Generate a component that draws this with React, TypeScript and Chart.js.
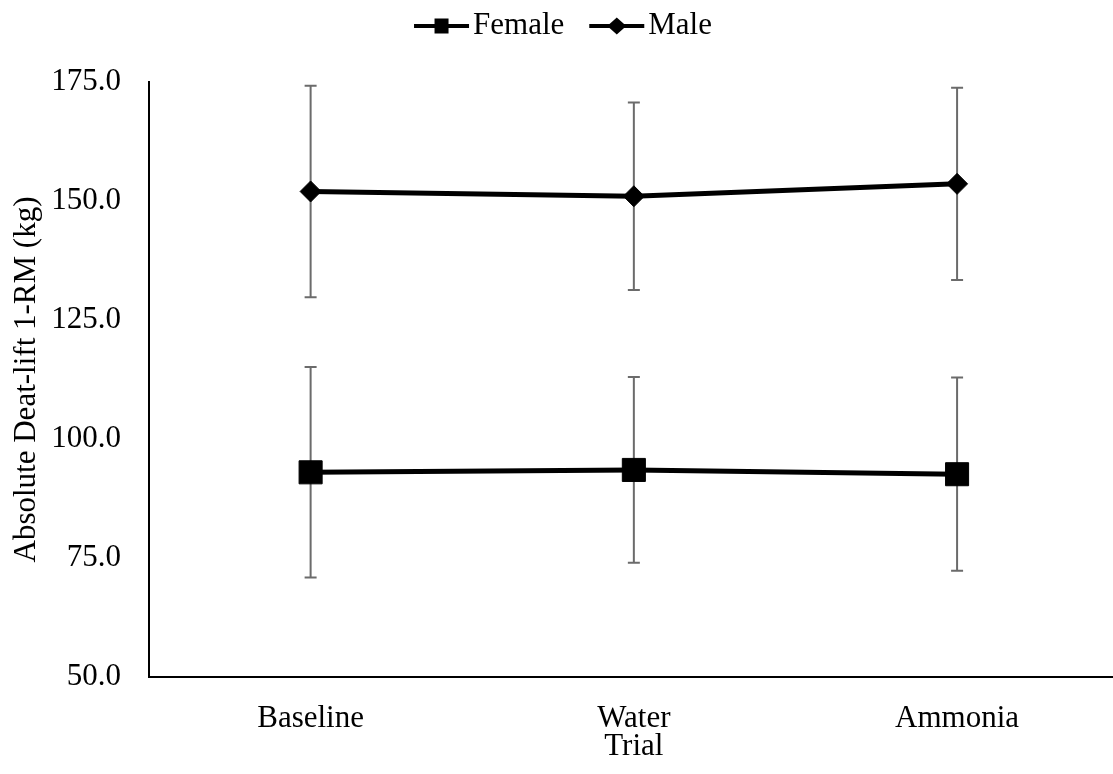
import React, { useEffect, useRef } from 'react';
import { Chart, registerables } from 'chart.js';

Chart.register(...registerables);

const trials = ['Baseline', 'Water', 'Ammonia'];
const femaleMeans = [93.0, 93.5, 92.6];
const femaleSD = [22.1, 19.5, 20.3];
const maleMeans = [152.0, 151.0, 153.6];
const maleSD = [22.2, 19.7, 20.2];
const yMin = 50;
const yMax = 175;
const yStep = 25;
const legendNames = ['Female', 'Male'];

const FONT = "'Liberation Serif', 'Times New Roman', serif";
const errs: Record<number, number[]> = { 0: femaleSD, 1: maleSD };

const errorBars = {
  id: 'errorBars',
  beforeDatasetsDraw(chart: any) {
    const { ctx, scales } = chart;
    const x = scales.x;
    const y = scales.y;
    ctx.save();
    ctx.strokeStyle = '#6b6b6b';
    ctx.lineWidth = 2;
    chart.data.datasets.forEach((ds: any, i: number) => {
      const e = errs[i];
      ds.data.forEach((v: number, j: number) => {
        const px = x.getPixelForValue(j);
        const top = y.getPixelForValue(v + e[j]);
        const bot = y.getPixelForValue(v - e[j]);
        ctx.beginPath();
        ctx.moveTo(px, top);
        ctx.lineTo(px, bot);
        ctx.moveTo(px - 6, top);
        ctx.lineTo(px + 6, top);
        ctx.moveTo(px - 6, bot);
        ctx.lineTo(px + 6, bot);
        ctx.stroke();
      });
    });
    ctx.restore();
  },
};

const customLegend = {
  id: 'customLegend',
  afterDraw(chart: any) {
    const { ctx } = chart;
    ctx.save();
    ctx.font = `31px ${FONT}`;
    ctx.textBaseline = 'middle';
    ctx.fillStyle = '#000';
    const iconW = 55;
    const gapText = 4;
    const gapItem = 25;
    const wF = ctx.measureText(legendNames[0]).width;
    const wM = ctx.measureText(legendNames[1]).width;
    const total = iconW + gapText + wF + gapItem + iconW + gapText + wM;
    const cy = 26;
    let x = 563 - total / 2;
    const drawIcon = (x0: number, kind: string) => {
      ctx.strokeStyle = '#000';
      ctx.lineWidth = 4;
      ctx.beginPath();
      ctx.moveTo(x0, cy);
      ctx.lineTo(x0 + iconW, cy);
      ctx.stroke();
      const cx = x0 + iconW / 2;
      if (kind === 'square') {
        ctx.fillRect(cx - 7, cy - 7.5, 14, 15);
      } else {
        ctx.beginPath();
        ctx.moveTo(cx - 9.5, cy);
        ctx.lineTo(cx, cy - 8.5);
        ctx.lineTo(cx + 9.5, cy);
        ctx.lineTo(cx, cy + 8.5);
        ctx.closePath();
        ctx.fill();
      }
    };
    drawIcon(x, 'square');
    x += iconW + gapText;
    ctx.fillText(legendNames[0], x, cy);
    x += wF + gapItem;
    drawIcon(x, 'diamond');
    x += iconW + gapText;
    ctx.fillText(legendNames[1], x, cy);
    ctx.restore();
  },
};

export default function App() {
  const ref = useRef<HTMLCanvasElement>(null);
  useEffect(() => {
    document.documentElement.style.overflow = 'hidden';
    document.body.style.overflow = 'hidden';
    Chart.defaults.font.family = FONT;
    Chart.defaults.font.size = 31;
    Chart.defaults.color = '#000';
    const chart = new Chart(ref.current as HTMLCanvasElement, {
      type: 'line',
      data: {
        labels: trials,
        datasets: [
          {
            label: legendNames[0],
            data: femaleMeans,
            borderColor: '#000',
            backgroundColor: '#000',
            borderWidth: 5,
            pointStyle: 'rect',
            pointRadius: 16.3,
            pointBorderWidth: 1,
            pointBackgroundColor: '#000',
            pointBorderColor: '#000',
            tension: 0,
          },
          {
            label: legendNames[1],
            data: maleMeans,
            borderColor: '#000',
            backgroundColor: '#000',
            borderWidth: 5,
            pointStyle: 'rectRot',
            pointRadius: 10.5,
            pointBorderWidth: 1,
            pointBackgroundColor: '#000',
            pointBorderColor: '#000',
            tension: 0,
          },
        ],
      },
      options: {
        animation: false,
        responsive: false,
        layout: { padding: { left: 6, right: 7, top: 82, bottom: 6 } },
        plugins: {
          legend: { display: false },
          tooltip: { enabled: false },
        },
        scales: {
          x: {
            offset: true,
            grid: { display: false, drawTicks: false },
            border: { display: true, color: '#000', width: 2 },
            ticks: { padding: 23, font: { size: 31, family: FONT }, color: '#000' },
            title: {
              display: true,
              text: 'Trial',
              font: { size: 31, family: FONT },
              color: '#000',
              padding: { top: 0, bottom: 3 },
            },
            afterFit: (s: any) => {
              s.height = 91;
            },
          },
          y: {
            min: yMin,
            max: yMax,
            grid: { display: false, drawTicks: false },
            border: { display: true, color: '#000', width: 2 },
            ticks: {
              stepSize: yStep,
              padding: 28,
              font: { size: 31, family: FONT },
              color: '#000',
              callback: (v: any) => Number(v).toFixed(1),
            },
            title: {
              display: true,
              text: 'Absolute Deat-lift 1-RM (kg)',
              font: { size: 31, family: FONT },
              color: '#000',
              padding: { top: 2, bottom: 0 },
            },
            afterFit: (s: any) => {
              s.width = 143;
            },
          },
        },
      },
      plugins: [errorBars, customLegend],
    });
    return () => chart.destroy();
  }, []);
  return (
    <div style={{ position: 'absolute', left: 0, top: 0, width: 1136, height: 774 }}>
      <canvas ref={ref} width={1136} height={774} style={{ display: 'block' }} />
    </div>
  );
}
